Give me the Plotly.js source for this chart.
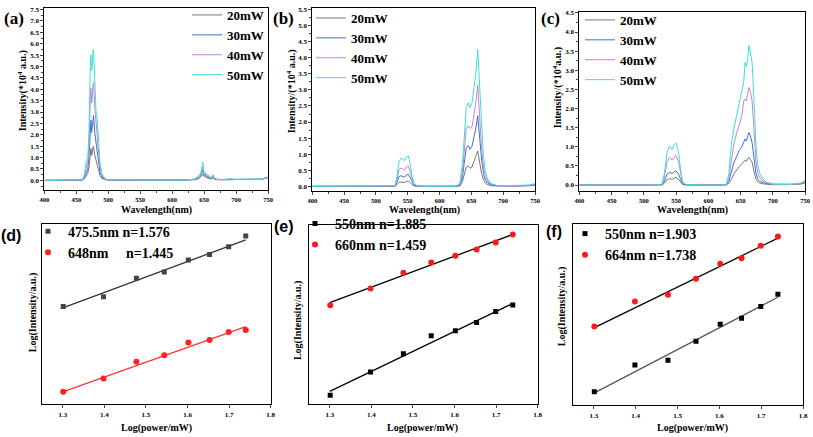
<!DOCTYPE html>
<html>
<head>
<meta charset="utf-8">
<script src="https://cdn.plot.ly/plotly-3.0.1.min.js"></script>
<style>
  html, body { margin: 0; padding: 0; background: #fff; }
  #chart { width: 813px; height: 437px; }
</style>
</head>
<body>
<div id="chart"></div>
<script>
// --- Data: emission spectra (intensity in 10^4 a.u.) ---
const powerLabels = ['20mW', '30mW', '40mW', '50mW'];
const lineColors = ['#767676', '#3f6fcc', '#c482d6', '#3de0d6'];

// (a)
const waveA = [400, 455, 460, 463, 466, 468, 470, 472, 473, 474, 475, 476, 477, 479, 481, 483, 485, 487, 490, 495, 500, 550, 620, 635, 642, 645, 647, 648, 650, 653, 656, 660, 663, 664, 666, 670, 680, 690, 700, 720, 740, 750];
const a20 = [0, 0, 0.01, 0.08, 0.22, 0.3, 0.6, 1.2, 1.4, 1.1, 1.2, 1.45, 1.5, 1.1, 0.8, 0.65, 0.45, 0.22, 0.08, 0.03, 0.01, 0.01, 0.01, 0.03, 0.08, 0.15, 0.22, 0.28, 0.17, 0.14, 0.12, 0.06, 0.09, 0.11, 0.05, 0.03, 0.03, 0.04, 0.03, 0.04, 0.04, 0.12];
const a30 = [0, 0, 0.02, 0.15, 0.4, 0.5, 1.1, 2.4, 2.65, 2.1, 2.3, 2.7, 2.85, 2.1, 1.5, 1.2, 0.8, 0.4, 0.15, 0.04, 0.02, 0.01, 0.01, 0.04, 0.12, 0.22, 0.35, 0.45, 0.25, 0.2, 0.17, 0.08, 0.13, 0.16, 0.07, 0.04, 0.03, 0.05, 0.04, 0.05, 0.05, 0.13];
const a40 = [0, 0, 0.02, 0.2, 0.65, 0.75, 1.6, 3.6, 4.05, 3.4, 3.6, 4.1, 4.3, 3.2, 2.3, 1.9, 1.2, 0.6, 0.22, 0.06, 0.02, 0.01, 0.01, 0.05, 0.15, 0.28, 0.45, 0.58, 0.3, 0.25, 0.2, 0.1, 0.16, 0.2, 0.08, 0.04, 0.03, 0.06, 0.04, 0.06, 0.05, 0.14];
const a50 = [0, 0, 0.03, 0.3, 0.9, 1.0, 2.2, 5.0, 5.5, 4.8, 5.0, 5.6, 5.75, 4.4, 3.0, 2.6, 1.6, 0.8, 0.3, 0.08, 0.03, 0.01, 0.01, 0.06, 0.2, 0.35, 0.6, 0.8, 0.35, 0.3, 0.25, 0.12, 0.2, 0.25, 0.1, 0.05, 0.04, 0.07, 0.05, 0.07, 0.06, 0.15];

// (b)
const waveB = [400, 520, 530, 533, 536, 539, 542, 545, 548, 551, 554, 557, 560, 565, 580, 625, 632, 636, 640, 642, 645, 648, 651, 654, 657, 660, 663, 666, 669, 672, 676, 682, 690, 700, 720, 740, 750];
const b20 = [0, 0, 0, 0.05, 0.12, 0.13, 0.13, 0.12, 0.15, 0.16, 0.11, 0.05, 0.01, 0, 0, 0, 0.01, 0.15, 0.45, 0.6, 0.63, 0.56, 0.6, 0.75, 0.9, 1.1, 0.75, 0.4, 0.2, 0.1, 0.05, 0.02, 0.01, 0.01, 0.01, 0.02, 0.04];
const b30 = [0, 0, 0.01, 0.12, 0.3, 0.33, 0.3, 0.28, 0.35, 0.38, 0.27, 0.12, 0.03, 0.01, 0, 0, 0.03, 0.3, 0.9, 1.2, 1.27, 1.15, 1.25, 1.5, 1.8, 2.2, 1.5, 0.85, 0.4, 0.2, 0.1, 0.04, 0.02, 0.01, 0.01, 0.02, 0.05];
const b40 = [0, 0, 0.01, 0.2, 0.5, 0.57, 0.55, 0.5, 0.6, 0.64, 0.45, 0.2, 0.05, 0.01, 0, 0, 0.06, 0.45, 1.4, 1.8, 1.88, 1.8, 1.85, 2.2, 2.6, 3.15, 2.1, 1.2, 0.6, 0.3, 0.15, 0.06, 0.02, 0.01, 0.01, 0.03, 0.06];
const b50 = [0, 0, 0.02, 0.3, 0.75, 0.87, 0.85, 0.8, 0.92, 0.95, 0.7, 0.3, 0.08, 0.02, 0, 0, 0.1, 0.7, 2.0, 2.45, 2.6, 2.45, 2.6, 3.0, 3.5, 4.25, 3.0, 1.8, 0.9, 0.45, 0.2, 0.08, 0.03, 0.02, 0.02, 0.04, 0.08];

// (c)
const waveC = [400, 520, 528, 532, 536, 540, 544, 548, 550, 554, 557, 560, 565, 580, 624, 628, 632, 636, 640, 644, 648, 652, 655, 657, 659, 661, 663, 665, 668, 671, 674, 677, 680, 685, 690, 700, 720, 735, 745, 750];
const c20 = [0, 0, 0, 0.05, 0.14, 0.17, 0.15, 0.19, 0.2, 0.15, 0.07, 0.02, 0, 0, 0, 0, 0.05, 0.15, 0.3, 0.4, 0.48, 0.55, 0.6, 0.65, 0.62, 0.68, 0.72, 0.68, 0.6, 0.35, 0.15, 0.08, 0.05, 0.03, 0.02, 0.01, 0.01, 0.02, 0.03, 0.06];
const c30 = [0, 0, 0.01, 0.1, 0.28, 0.33, 0.3, 0.36, 0.37, 0.28, 0.13, 0.03, 0.01, 0, 0, 0.01, 0.1, 0.35, 0.6, 0.75, 0.9, 1.0, 1.15, 1.2, 1.15, 1.25, 1.37, 1.3, 1.1, 0.7, 0.3, 0.15, 0.1, 0.06, 0.04, 0.02, 0.01, 0.02, 0.04, 0.08];
const c40 = [0, 0, 0.01, 0.2, 0.6, 0.72, 0.65, 0.75, 0.77, 0.6, 0.28, 0.07, 0.01, 0, 0, 0.01, 0.2, 0.7, 1.1, 1.35, 1.55, 1.8, 2.2, 2.25, 2.2, 2.35, 2.55, 2.45, 2.2, 1.4, 0.6, 0.3, 0.2, 0.1, 0.06, 0.02, 0.01, 0.02, 0.05, 0.1];
const c50 = [0, 0, 0.02, 0.3, 0.85, 1.02, 0.93, 1.08, 1.1, 0.85, 0.4, 0.1, 0.02, 0, 0, 0.02, 0.3, 1.1, 1.5, 1.8, 2.1, 2.4, 2.7, 3.2, 3.1, 3.3, 3.65, 3.5, 3.2, 2.2, 1.0, 0.5, 0.3, 0.15, 0.08, 0.03, 0.01, 0.03, 0.06, 0.12];

// --- Data: log-log power dependence (relative log intensity, axis unlabeled) ---
const logPower = [1.301, 1.398, 1.477, 1.544, 1.602, 1.653, 1.699, 1.740];
const fitX = [1.30, 1.74];

const d475 = [0.541, 0.596, 0.698, 0.733, 0.799, 0.830, 0.872, 0.932];
const d648 = [0.069, 0.143, 0.236, 0.272, 0.342, 0.356, 0.400, 0.411];
const d475Fit = [0.534, 0.910];
const d648Fit = [0.069, 0.430];

const e550 = [0.050, 0.180, 0.281, 0.381, 0.410, 0.456, 0.517, 0.553];
const e660 = [0.551, 0.645, 0.732, 0.789, 0.827, 0.862, 0.901, 0.945];
const e550Fit = [0.072, 0.561];
const e660Fit = [0.566, 0.945];

const f550 = [0.075, 0.222, 0.249, 0.353, 0.447, 0.480, 0.545, 0.613];
const f664 = [0.435, 0.573, 0.609, 0.698, 0.780, 0.811, 0.880, 0.931];
const f550Fit = [0.067, 0.596];
const f664Fit = [0.427, 0.922];

// --- Helpers ---
const W = 813, H = 437;
const serif = 'Liberation Serif, Times New Roman, serif';
const sans = 'Liberation Sans, Arial, sans-serif';
const px = x => x / W;
const py = y => 1 - y / H;

function specXAxis(l, r, anchor) {
    return {
        domain: [px(l), px(r)], anchor: anchor, range: [400, 750],
        dtick: 50, ticks: 'outside', ticklen: 3, tickwidth: 1,
        minor: { dtick: 25, ticks: 'outside', ticklen: 2 },
        showline: true, mirror: true, linecolor: '#000', linewidth: 1,
        showgrid: false, zeroline: false,
        tickfont: { family: serif, size: 6.5, weight: 'bold', color: '#000' }
    };
}
function specYAxis(t, b, range, anchor) {
    return {
        domain: [py(b), py(t)], anchor: anchor, range: range,
        dtick: 0.5, tickformat: '.1f', ticks: 'outside', ticklen: 3, tickwidth: 1,
        minor: { dtick: 0.25, ticks: 'outside', ticklen: 2 },
        showline: true, mirror: true, linecolor: '#000', linewidth: 1,
        showgrid: false, zeroline: false,
        tickfont: { family: serif, size: 7, weight: 'bold', color: '#000' }
    };
}
function logXAxis(l, r, anchor) {
    return {
        domain: [px(l), px(r)], anchor: anchor, range: [1.25, 1.8],
        dtick: 0.1, tickformat: '.1f', ticks: 'outside', ticklen: 3, tickwidth: 1,
        showline: true, mirror: true, linecolor: '#000', linewidth: 1,
        showgrid: false, zeroline: false,
        tickfont: { family: serif, size: 7, weight: 'bold', color: '#000' }
    };
}
function logYAxis(t, b, anchor) {
    return {
        domain: [py(b), py(t)], anchor: anchor, range: [0, 1],
        showticklabels: false, ticks: '',
        showline: true, mirror: true, linecolor: '#000', linewidth: 1,
        showgrid: false, zeroline: false
    };
}

const traces = [];
function addSpectra(wave, series, xa, ya, leg) {
    series.forEach((vals, i) => {
        traces.push({
            x: wave, y: vals, type: 'scatter', mode: 'lines',
            name: powerLabels[i], xaxis: xa, yaxis: ya, legend: leg,
            line: { color: lineColors[i], width: 1 }
        });
    });
}
function addPoints(y, name, symbol, color, xa, ya, leg) {
    traces.push({
        x: logPower, y: y, type: 'scatter', mode: 'markers', name: name,
        xaxis: xa, yaxis: ya, legend: leg,
        marker: { symbol: symbol, size: symbol === 'square' ? 5 : 6, color: color }
    });
}
function addFit(y, color, xa, ya) {
    traces.push({
        x: fitX, y: y, type: 'scatter', mode: 'lines', showlegend: false,
        xaxis: xa, yaxis: ya, line: { color: color, width: 1.3 }
    });
}

addSpectra(waveA, [a20, a30, a40, a50], 'x', 'y', 'legend');
addSpectra(waveB, [b20, b30, b40, b50], 'x2', 'y2', 'legend2');
addSpectra(waveC, [c20, c30, c40, c50], 'x3', 'y3', 'legend3');

addFit(d475Fit, '#333333', 'x4', 'y4');
addFit(d648Fit, '#ff3333', 'x4', 'y4');
addPoints(d475, '475.5nm n=1.576', 'square', '#444444', 'x4', 'y4', 'legend4');
addPoints(d648, '648nm&nbsp;&nbsp;&nbsp;&nbsp;&nbsp;n=1.445', 'circle', '#ff2020', 'x4', 'y4', 'legend4');

addFit(e550Fit, '#000000', 'x5', 'y5');
addFit(e660Fit, '#000000', 'x5', 'y5');
addPoints(e550, '550nm n=1.885', 'square', '#000000', 'x5', 'y5', 'legend5');
addPoints(e660, '660nm n=1.459', 'circle', '#ff1a1a', 'x5', 'y5', 'legend5');

addFit(f550Fit, '#555555', 'x6', 'y6');
addFit(f664Fit, '#000000', 'x6', 'y6');
addPoints(f550, '550nm n=1.903', 'square', '#000000', 'x6', 'y6', 'legend6');
addPoints(f664, '664nm n=1.738', 'circle', '#ff1a1a', 'x6', 'y6', 'legend6');

function legendAt(l, t, size) {
    return {
        x: px(l), y: py(t), xanchor: 'left', yanchor: 'top',
        bgcolor: 'rgba(0,0,0,0)', borderwidth: 0, tracegroupgap: 0,
        font: { family: serif, size: size, weight: 'bold', color: '#000' }
    };
}

function note(text, x, y, size, opts) {
    return Object.assign({
        text: text, xref: 'paper', yref: 'paper', x: px(x), y: py(y),
        xanchor: 'center', yanchor: 'middle', showarrow: false,
        font: { family: serif, size: size, weight: 'bold', color: '#000' }
    }, opts || {});
}
const sansFont = { family: sans, size: 16, weight: 'bold', color: '#000' };

const annotations = [
    note('(a)', 14, 15, 17),
    note('(b)', 283, 15, 17),
    note('(c)', 550, 15, 17),
    note('(d)', 11, 234, 16, { font: sansFont }),
    note('(e)', 284, 225, 16, { font: sansFont }),
    note('(f)', 554, 230, 16, { font: sansFont }),
    note('Wavelength(nm)', 156, 208, 10),
    note('Wavelength(nm)', 424, 208, 10),
    note('Wavelength(nm)', 692, 208, 10),
    note('Intensity(*10<sup>4</sup> a.u.)', 22, 88, 10, { textangle: -90 }),
    note('Intensity/(*10<sup>4</sup> a.u.)', 291, 88, 10, { textangle: -90 }),
    note('Intensity/(*10<sup>4</sup>a.u.)', 557, 85, 10, { textangle: -90 }),
    note('Log(power/mW)', 156, 428, 10),
    note('Log(power/mW)', 423, 428, 10),
    note('Log(power/mW)', 692, 428, 10),
    note('Log(Intensity/a.u.)', 33, 312, 10, { textangle: -90 }),
    note('Log(Intensity/a.u.)', 298, 320, 10, { textangle: -90 }),
    note('Log(Intensity/a.u.)', 562, 306, 10, { textangle: -90 })
];

const layout = {
    width: W, height: H,
    margin: { l: 0, r: 0, t: 0, b: 0 },
    paper_bgcolor: '#fff', plot_bgcolor: '#fff',
    showlegend: true,
    xaxis: specXAxis(44.3, 268, 'y'),
    yaxis: specYAxis(4, 188, [-0.435, 7.57], 'x'),
    xaxis2: specXAxis(312.3, 535, 'y2'),
    yaxis2: specYAxis(4, 189, [-0.154, 5.55], 'x2'),
    xaxis3: specXAxis(579.3, 805, 'y3'),
    yaxis3: specYAxis(8, 189, [-0.163, 4.526], 'x3'),
    xaxis4: logXAxis(42, 270.7, 'y4'),
    yaxis4: logYAxis(221.7, 404, 'x4'),
    xaxis5: logXAxis(309, 537.7, 'y5'),
    yaxis5: logYAxis(222.7, 404, 'x5'),
    xaxis6: logXAxis(573, 803, 'y6'),
    yaxis6: logYAxis(222, 405, 'x6'),
    legend: legendAt(187, -4.5, 13),
    legend2: legendAt(311, -1, 13),
    legend3: legendAt(580, 1, 13),
    legend4: legendAt(28, 213.5, 14),
    legend5: legendAt(295, 205.7, 14),
    legend6: legendAt(565, 216, 14),
    annotations: annotations
};

Plotly.newPlot('chart', traces, layout, { displayModeBar: false, staticPlot: true });
</script>
</body>
</html>
